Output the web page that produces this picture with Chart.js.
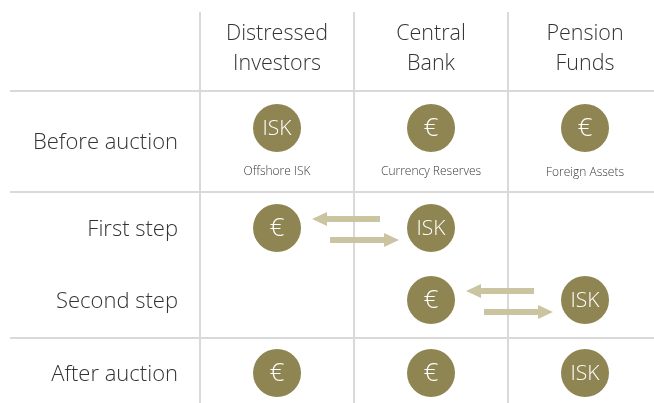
<!DOCTYPE html>
<html>
<head>
<meta charset="utf-8">
<script src="https://cdn.jsdelivr.net/npm/chart.js@4/dist/chart.umd.min.js"></script>
<style>
  html, body { margin: 0; padding: 0; background: #fff; }
  #wrap { width: 654px; height: 403px; }
</style>
</head>
<body>
<div id="wrap"><canvas id="c" width="654" height="403"></canvas></div>
<script>
// who holds what at each step of the auction
const holders = [['Distressed', 'Investors'], ['Central', 'Bank'], ['Pension', 'Funds']];
const steps = ['Before auction', 'First step', 'Second step', 'After auction'];
const beforeAuction = ['ISK', '€', '€'];
const firstStep = ['€', 'ISK', null];
const secondStep = [null, '€', 'ISK'];
const afterAuction = ['€', '€', 'ISK'];
const assetNames = ['Offshore ISK', 'Currency Reserves', 'Foreign Assets'];
// swaps: step index, holder giving ISK ... holder giving €
const swapStep = [1, 2];
const swapLeft = [0, 1];
const swapRight = [1, 2];

// layout (scale units)
const rowPos = [0, 1, 1.72, 2.45];
const rowLines = [-0.37, 0.64, 2.1];
const colLines = [-0.5, 0.5, 1.5];

const GOLD = '#8f8552';
const ARROW = '#cbc4a1';
const LINE = '#d9d9d9';
const TEXT = '#333333';
const FONT = '"Open Sans", "Noto Sans", sans-serif';

const holdings = [beforeAuction, firstStep, secondStep, afterAuction];
const points = [];
holdings.forEach((row, r) => {
  row.forEach((cur, c) => {
    if (cur) points.push({ x: c, y: rowPos[r], cur });
  });
});

const diagram = {
  id: 'diagram',
  beforeDatasetsDraw(chart) {
    const { ctx, scales: { x, y } } = chart;
    ctx.save();
    ctx.strokeStyle = LINE;
    ctx.lineWidth = 2;
    // vertical separators
    colLines.forEach(v => {
      const px = Math.round(x.getPixelForValue(v));
      ctx.beginPath();
      ctx.moveTo(px, 12);
      ctx.lineTo(px, chart.height);
      ctx.stroke();
    });
    // horizontal separators
    rowLines.forEach(v => {
      const py = Math.round(y.getPixelForValue(v));
      ctx.beginPath();
      ctx.moveTo(10, py);
      ctx.lineTo(chart.width, py);
      ctx.stroke();
    });

    // swap arrows
    ctx.fillStyle = ARROW;
    swapStep.forEach((s, i) => {
      const a = x.getPixelForValue(swapLeft[i]);
      const b = x.getPixelForValue(swapRight[i]);
      const mid = (a + b) / 2;
      const cy = y.getPixelForValue(rowPos[s]);
      drawArrow(ctx, mid + 26, mid - 42, cy - 9);   // € going left
      drawArrow(ctx, mid - 24, mid + 45, cy + 12);  // ISK going right
    });

    // column headers
    ctx.fillStyle = TEXT;
    ctx.textAlign = 'center';
    ctx.textBaseline = 'middle';
    ctx.font = '300 21.5px ' + FONT;
    holders.forEach((lines, c) => {
      const px = x.getPixelForValue(c);
      lines.forEach((t, k) => ctx.fillText(t, px, 34 + k * 30));
    });

    // row labels
    ctx.textAlign = 'right';
    ctx.font = '300 22px ' + FONT;
    const lx = x.getPixelForValue(-0.5) - 22;
    steps.forEach((t, r) => {
      const py = y.getPixelForValue(rowPos[r]) + (r === 0 ? 15 : 2);
      ctx.fillText(t, lx, py);
    });

    // asset captions
    ctx.textAlign = 'center';
    ctx.font = '300 12px ' + FONT;
    ctx.fillStyle = '#3a3a3a';
    assetNames.forEach((t, c) => {
      ctx.fillText(t, x.getPixelForValue(c), y.getPixelForValue(rowPos[0]) + 44 + (c === 2 ? 1 : 0));
    });
    ctx.restore();
  },
  afterDatasetsDraw(chart) {
    const { ctx } = chart;
    const meta = chart.getDatasetMeta(0);
    ctx.save();
    ctx.fillStyle = '#ffffff';
    ctx.textAlign = 'center';
    ctx.textBaseline = 'middle';
    meta.data.forEach((el, i) => {
      const cur = points[i].cur;
      ctx.font = (cur === '€' ? '300 26px ' : '300 21px ') + FONT;
      ctx.fillText(cur, el.x, el.y + 1);
    });
    ctx.restore();
  }
};

function drawArrow(ctx, x0, x1, yc) {
  const dir = x1 > x0 ? 1 : -1;
  const head = 15, half = 7, shaft = 3;
  const xb = x1 - dir * head;
  ctx.beginPath();
  ctx.moveTo(x0, yc - shaft);
  ctx.lineTo(xb, yc - shaft);
  ctx.lineTo(xb, yc - half);
  ctx.lineTo(x1, yc);
  ctx.lineTo(xb, yc + half);
  ctx.lineTo(xb, yc + shaft);
  ctx.lineTo(x0, yc + shaft);
  ctx.closePath();
  ctx.fill();
}

new Chart(document.getElementById('c'), {
  type: 'scatter',
  data: {
    datasets: [{
      data: points,
      pointRadius: 24,
      pointHoverRadius: 24,
      pointBackgroundColor: GOLD,
      pointBorderWidth: 0,
      pointBorderColor: GOLD
    }]
  },
  options: {
    responsive: false,
    devicePixelRatio: 1,
    animation: false,
    layout: { padding: 0, autoPadding: false },
    plugins: { legend: { display: false }, tooltip: { enabled: false } },
    scales: {
      x: { type: 'linear', display: false, min: -1.799, max: 2.448 },
      y: { type: 'linear', display: false, reverse: true, min: -1.28, max: 2.75 }
    }
  },
  plugins: [diagram]
});
</script>
</body>
</html>
